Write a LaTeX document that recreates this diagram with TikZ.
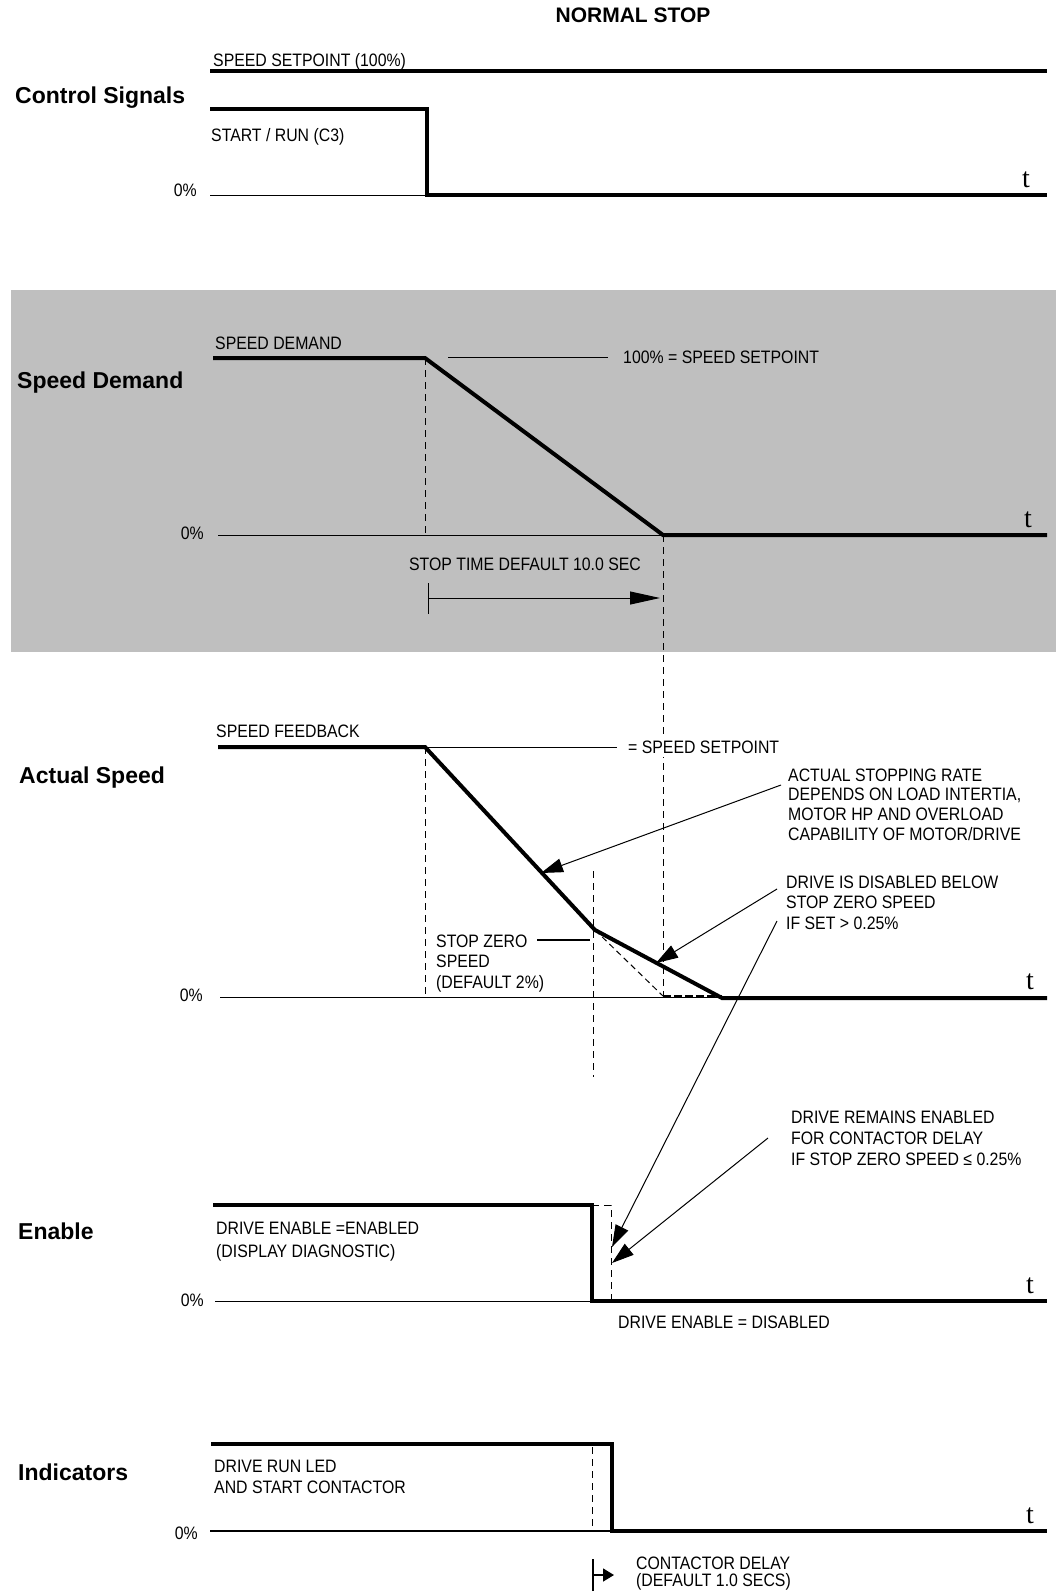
\documentclass[tikz,border=0pt]{standalone}
\usepackage{fontspec}
\setmainfont{Liberation Sans}[FakeStretch=0.88]
\newfontfamily\headfont{Liberation Sans}
\newfontfamily\tfont{Liberation Serif}
\usetikzlibrary{arrows.meta,positioning,calc}

\begin{document}
\begin{tikzpicture}[x=1pt, y=-1pt,
    lbl/.style={anchor=north west, inner sep=0pt, align=left, font=\fontsize{18}{20.5}\selectfont},
    head/.style={anchor=base west, inner sep=0pt, font=\headfont\bfseries\fontsize{23}{26}\selectfont},
    zero/.style={anchor=north east, inner sep=0pt, font=\fontsize{18}{20}\selectfont},
    tlbl/.style={anchor=base, inner sep=0pt, font=\tfont\fontsize{28}{30}\selectfont},
    sig/.style={line width=4pt, line join=miter},
    zeroline/.style={line width=1pt},
    guide/.style={line width=1pt, dash pattern=on 7pt off 5pt},
    ptr/.style={line width=1pt, -{Triangle[length=22pt, width=14pt]}}
]
\useasboundingbox (0,0) rectangle (1056,1593);

% Shaded band
\fill[black!25] (11,290) rectangle (1056,652);

% Title
\node[anchor=base, inner sep=0pt, font=\headfont\bfseries\fontsize{21}{24}\selectfont] (title) at (633,22) {NORMAL STOP};

% Control signals
\node[head] (hctrl) at (15,103) {Control Signals};
\node[lbl] (setpt) at (213,53) {SPEED SETPOINT (100\%)};
\node[lbl] (run) at (211,128.5) {START / RUN (C3)};
\node[zero] (z1) at (197,183.5) {0\%};
\node[tlbl] (t1) at (1026,187) {t};
\draw[sig] (210,71) -- (1047,71);
\draw[zeroline] (210,195) -- (427,195);
\draw[sig] (210,109) -- (427,109) -- (427,195) -- (1047,195);

% Speed demand
\node[head] (hdem) at (17,388) {Speed Demand};
\node[lbl] (dem) at (215,337) {SPEED DEMAND};
\node[lbl] (dem100) at (623,350.5) {100\% = SPEED SETPOINT};
\node[zero] (z2) at (204,526.5) {0\%};
\node[tlbl] (t2) at (1028,527.5) {t};
\coordinate (demA) at (425,358);
\coordinate (demB) at (663,535);
\draw[zeroline] (218,535) -- (demB);
\draw[zeroline] (448,357) -- (608,357);
\draw[guide] (demA) -- (425,535);
\draw[guide] (demB) -- (663,996);
\draw[sig] (213,358) -- (demA) -- (demB) -- (1047,535);
\node[lbl, anchor=north] (stoptime) at (525,557.5) {STOP TIME DEFAULT 10.0 SEC};
\coordinate (stopA) at (428,598);
\coordinate (stopB) at (660,598);
\draw[line width=1pt, {Bar[width=31pt]}-{Triangle[length=30pt, width=13pt]}] (stopA) -- (stopB);

% Actual speed
\node[head] (hact) at (19,783) {Actual Speed};
\node[lbl] (fb) at (216,724.5) {SPEED FEEDBACK};
\node[zero] (z3) at (203,988.5) {0\%};
\node[tlbl] (t3) at (1030,989) {t};
\coordinate (fbA) at (425,747);
\coordinate (fbKnee) at (595,930);
\coordinate (fbB) at (722,998);
\draw[zeroline] (fbA) -- (617,747);
\draw[zeroline] (220,997) -- (723,997);
\draw[guide] (fbA) -- (425,996);
\draw[guide] (593,871) -- (593,1077);
\draw[line width=1pt, dash pattern=on 6pt off 4pt] (fbKnee) -- (663,996);
\draw[line width=2pt, dash pattern=on 8pt off 3pt] (663,996) -- (722,996);
\draw[sig] (218,747) -- (fbA) -- (fbKnee) -- (fbB) -- (1047,998);
\node[lbl, fill=white, inner sep=4pt] (fbset) at (624,736.5) {= SPEED SETPOINT};
\node[lbl] (szs) at (436,934.5) {STOP ZERO\\SPEED\\(DEFAULT 2\%)};
\draw[line width=2pt] (537,940) -- (590,940);
\node[lbl, font=\fontsize{18}{19.7}\selectfont] (rate) at (788,768.5) {ACTUAL STOPPING RATE\\DEPENDS ON LOAD INTERTIA,\\MOTOR HP AND OVERLOAD\\CAPABILITY OF MOTOR/DRIVE};
\node[lbl] (dis) at (786,875.5) {DRIVE IS DISABLED BELOW\\STOP ZERO SPEED\\IF SET > 0.25\%};
\coordinate (rateFrom) at (781,785);
\coordinate (rateTip) at (541,873);
\coordinate (disFrom) at (777,889);
\coordinate (disTip) at (656,963);
\draw[ptr] (rateFrom) -- (rateTip);
\draw[ptr] (disFrom) -- (disTip);

% Enable
\node[head] (hen) at (18,1239) {Enable};
\node[lbl, font=\fontsize{18}{23}\selectfont] (en) at (216,1221.5) {DRIVE ENABLE =ENABLED\\(DISPLAY DIAGNOSTIC)};
\node[lbl] (endis) at (618,1315.5) {DRIVE ENABLE = DISABLED};
\node[lbl, font=\fontsize{18}{21}\selectfont] (remain) at (791,1110.5) {DRIVE REMAINS ENABLED\\FOR CONTACTOR DELAY\\IF STOP ZERO SPEED ≤ 0.25\%};
\node[zero] (z4) at (204,1293.5) {0\%};
\node[tlbl] (t4) at (1030,1293) {t};
\draw[zeroline] (215,1301) -- (592,1301);
\draw[guide] (592,1205) -- (611,1205) -- (611,1301);
\draw[sig] (213,1205) -- (592,1205) -- (592,1301) -- (1047,1301);
\coordinate (offFrom) at (777,921);
\coordinate (offTip) at (612,1247);
\coordinate (remFrom) at (768,1138);
\coordinate (remTip) at (612,1263);
\draw[ptr] (offFrom) -- (offTip);
\draw[ptr] (remFrom) -- (remTip);

% Indicators
\node[head] (hind) at (18,1480) {Indicators};
\node[lbl, font=\fontsize{18}{21}\selectfont] (led) at (214,1459.5) {DRIVE RUN LED\\AND START CONTACTOR};
\node[zero] (z5) at (198,1526.5) {0\%};
\node[tlbl] (t5) at (1030,1523) {t};
\draw[line width=1.4pt] (210,1531) -- (612,1531);
\draw[guide] (592,1447) -- (592,1530);
\draw[sig] (211,1444) -- (612,1444) -- (612,1531) -- (1047,1531);
\coordinate (cdA) at (592,1575);
\coordinate (cdB) at (614,1575);
\draw[line width=1.5pt, {Bar[width=32pt]}-{Triangle[length=11pt, width=13pt]}] (cdA) -- (cdB);
\node[lbl, font=\fontsize{18}{17}\selectfont] (cd) at (636,1557) {CONTACTOR DELAY\\(DEFAULT 1.0 SECS)};

\end{tikzpicture}
\end{document}
